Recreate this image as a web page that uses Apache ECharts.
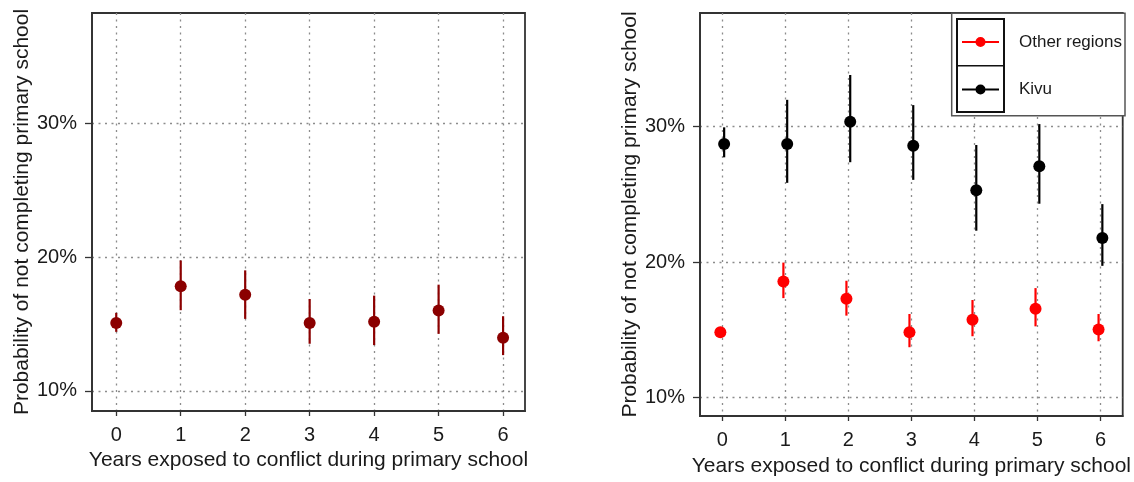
<!DOCTYPE html>
<html><head><meta charset="utf-8">
<script src="https://cdn.jsdelivr.net/npm/echarts@6/dist/echarts.min.js"></script>
<style>html,body{margin:0;padding:0;background:#fff}#c{width:1134px;height:482px}</style>
</head><body><div id="c"></div>
<script>
const years = [0, 1, 2, 3, 4, 5, 6];
const yTicks = [10, 20, 30];
const allEst = [15.09, 17.83, 17.20, 15.09, 15.17, 16.01, 13.98];
const allLo  = [14.42, 16.04, 15.39, 13.53, 13.43, 14.27, 12.68];
const allHi  = [15.84, 19.76, 19.02, 16.88, 17.13, 17.95, 15.59];
const otherEst = [14.82, 18.57, 17.30, 14.82, 15.75, 16.56, 15.02];
const otherLo  = [14.53, 17.34, 16.05, 13.72, 14.53, 15.26, 14.16];
const otherHi  = [15.07, 19.96, 18.62, 16.17, 17.20, 18.08, 16.17];
const kivuEst = [28.70, 28.70, 30.34, 28.58, 25.30, 27.06, 21.77];
const kivuLo  = [27.72, 25.84, 27.36, 26.06, 22.31, 24.30, 19.72];
const kivuHi  = [29.93, 31.96, 33.79, 31.57, 28.63, 30.17, 24.27];
const xName = 'Years exposed to conflict during primary school';
const yName = 'Probability of not completing primary school';

const FONT = 'Liberation Sans, Arial, sans-serif';
const TXT = '#1a1a1a';
const DODGE = 0.03;
const GRIDLINE = {type: [2, 4.5], color: '#8c8c8c', width: 1.3};

function xAx(gi, min, max, gap) {
  return {
    type: 'value', gridIndex: gi, min: min, max: max,
    axisLine: {show: true, onZero: false, lineStyle: {color: '#333', width: 1.8}},
    axisTick: {show: true, customValues: years, length: 5, lineStyle: {color: '#333', width: 1.3}},
    axisLabel: {customValues: years, fontSize: 20, color: TXT, margin: 14, fontFamily: FONT},
    splitLine: {show: true, lineStyle: GRIDLINE},
    name: xName, nameLocation: 'middle', nameGap: gap,
    nameTextStyle: {fontSize: 21, color: TXT, fontFamily: FONT}
  };
}
function yAx(gi, min, max) {
  return {
    type: 'value', gridIndex: gi, min: min, max: max,
    axisLine: {show: true, onZero: false, lineStyle: {color: '#333', width: 1.8}},
    axisTick: {show: true, customValues: yTicks, length: 7, lineStyle: {color: '#333', width: 1.3}},
    axisLabel: {customValues: yTicks, fontSize: 20, color: TXT, margin: 15, fontFamily: FONT,
      formatter: v => v + '%'},
    splitLine: {show: true, lineStyle: GRIDLINE},
    name: yName, nameLocation: 'middle', nameGap: 57,
    nameTextStyle: {fontSize: 21, color: TXT, fontFamily: FONT}
  };
}
function errSeries(name, xi, yi, lo, hi, color, off) {
  return {
    type: 'custom', name: name, xAxisIndex: xi, yAxisIndex: yi,
    data: years.map((y, i) => [y + off, lo[i], hi[i]]),
    encode: {x: 0, y: [1, 2]},
    renderItem: function (params, api) {
      const p1 = api.coord([api.value(0), api.value(1)]);
      const p2 = api.coord([api.value(0), api.value(2)]);
      return {type: 'line', shape: {x1: p1[0], y1: p1[1], x2: p2[0], y2: p2[1]},
        style: {stroke: color, lineWidth: 2.2}};
    },
    silent: true, z: 2
  };
}
function ptSeries(name, xi, yi, est, color, off) {
  return {
    type: 'scatter', name: name, xAxisIndex: xi, yAxisIndex: yi,
    data: years.map((y, i) => [y + off, est[i]]),
    symbol: 'circle', symbolSize: 12, itemStyle: {color: color, opacity: 1}, z: 3
  };
}

const legendIcon = 'path://M0,4H37V6H0Z M18.5,0A5,5 0 1,1 18.49,0Z';

const chart = echarts.init(document.getElementById('c'));
chart.setOption({
  animation: false,
  backgroundColor: '#fff',
  grid: [
    {left: 92, top: 13, width: 433, height: 398, show: true, borderColor: '#333', borderWidth: 1.8, containLabel: false},
    {left: 700, top: 13, width: 424, height: 405, show: true, borderColor: '#333', borderWidth: 1.8, containLabel: false}
  ],
  xAxis: [xAx(0, -0.376, 6.34, 39), xAx(1, -0.353, 6.353, 40)],
  yAxis: [yAx(0, 8.5, 38.27), yAx(1, 8.65, 38.36)],
  legend: {
    show: true, orient: 'vertical', left: 962, top: 33.5, z: 10, padding: 0,
    itemWidth: 37, itemHeight: 10, itemGap: 30.5,
    icon: legendIcon, selectedMode: false,
    textStyle: {fontSize: 17, color: TXT, fontFamily: FONT, padding: [0, 0, 0, 15]},
    data: [
      {name: 'Other regions', itemStyle: {color: '#ff0000'}},
      {name: 'Kivu', itemStyle: {color: '#000'}}
    ]
  },
  graphic: [
    {type: 'rect', z: 5, shape: {x: 951.7, y: 13.3, width: 173.3, height: 102.4},
      style: {fill: '#fff', stroke: '#555', lineWidth: 1.5}},
    {type: 'rect', z: 6, shape: {x: 957, y: 19, width: 47, height: 93},
      style: {fill: 'none', stroke: '#111', lineWidth: 2}},
    {type: 'line', z: 6, shape: {x1: 957, y1: 65.7, x2: 1004, y2: 65.7},
      style: {stroke: '#111', lineWidth: 1.5}}
  ],
  series: [
    errSeries('All', 0, 0, allLo, allHi, '#8b0000', 0),
    ptSeries('All', 0, 0, allEst, '#8b0000', 0),
    errSeries('Other regions', 1, 1, otherLo, otherHi, '#ff0000', -DODGE),
    ptSeries('Other regions', 1, 1, otherEst, '#ff0000', -DODGE),
    errSeries('Kivu', 1, 1, kivuLo, kivuHi, '#000', DODGE),
    ptSeries('Kivu', 1, 1, kivuEst, '#000', DODGE)
  ]
});
</script></body></html>
